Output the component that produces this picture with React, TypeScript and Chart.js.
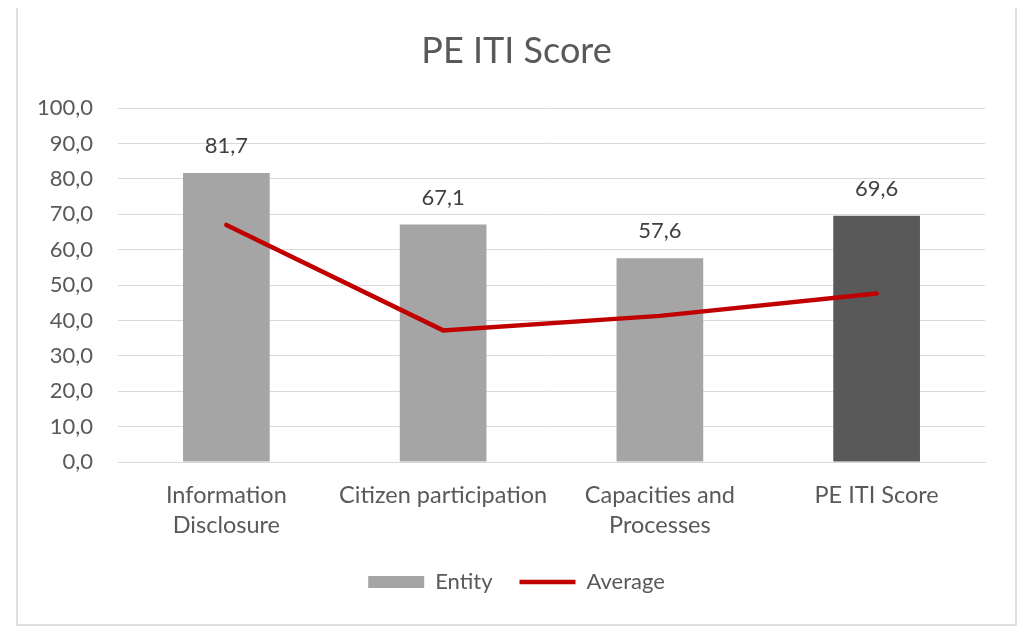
import React, { useEffect, useRef } from "react";
import { Chart, registerables } from "chart.js";

Chart.register(...registerables);

const categories: (string | string[])[] = [
  ["Information", "Disclosure"],
  "Citizen participation",
  ["Capacities and", "Processes"],
  "PE ITI Score",
];
const entityValues = [81.7, 67.1, 57.6, 69.6];
const averageValues = [67.0, 37.2, 41.3, 47.6];
const barColors = ["#A5A5A5", "#A5A5A5", "#A5A5A5", "#595959"];
const yTickMin = 0;
const yTickMax = 100;
const yTickStep = 10;

const FONT = "Lato, 'Open Sans', sans-serif";
const fmt = (v: number) => v.toFixed(1).replace(".", ",");

const barLabelPlugin = {
  id: "barLabels",
  afterDatasetsDraw(chart: any) {
    const meta = chart.getDatasetMeta(0);
    const ctx = chart.ctx;
    ctx.save();
    ctx.font = `22px ${FONT}`;
    ctx.fillStyle = "#404040";
    ctx.textAlign = "center";
    ctx.textBaseline = "middle";
    meta.data.forEach((bar: any, i: number) => {
      ctx.fillText(fmt(entityValues[i]), bar.x, bar.y - 27);
    });
    ctx.restore();
  },
};

export default function App() {
  const ref = useRef<HTMLCanvasElement>(null);
  useEffect(() => {
    if (!ref.current) return;
    const chart = new Chart(ref.current, {
      type: "bar",
      data: {
        labels: categories,
        datasets: [
          {
            type: "bar",
            label: "Entity",
            data: entityValues,
            backgroundColor: barColors,
            borderWidth: 0,
            barPercentage: 0.4,
            categoryPercentage: 1,
            order: 1,
            pointStyle: "rect",
          } as any,
          {
            type: "line",
            label: "Average",
            data: averageValues,
            borderColor: "#C00000",
            backgroundColor: "#C00000",
            borderWidth: 4.5,
            borderCapStyle: "round",
            pointRadius: 0,
            pointHoverRadius: 0,
            tension: 0,
            order: 0,
            pointStyle: "line",
          } as any,
        ],
      },
      options: {
        animation: false,
        responsive: false,
        maintainAspectRatio: false,
        layout: { padding: { top: 0, left: 0, right: 0, bottom: 21 } },
        plugins: {
          title: {
            display: true,
            text: "PE ITI Score",
            color: "#595959",
            font: { family: FONT, size: 36, weight: "normal", lineHeight: 1.2 },
            padding: { top: 26, bottom: 35 },
          },
          legend: {
            display: true,
            position: "bottom",
            labels: {
              usePointStyle: true,
              pointStyleWidth: 56,
              boxHeight: 12,
              padding: 27,
              color: "#595959",
              font: { family: FONT, size: 22 },
              sort: (a: any, b: any) => a.datasetIndex - b.datasetIndex,
            },
          },
          tooltip: { enabled: false },
        },
        scales: {
          x: {
            grid: { display: false, drawTicks: false },
            border: { display: true, color: "#D9D9D9", width: 1 },
            ticks: {
              color: "#595959",
              font: { family: FONT, size: 23.5, lineHeight: 1.25 },
              padding: 19,
              maxRotation: 0,
              autoSkip: false,
            },
            afterFit: (s: any) => {
              s.height = 82;
            },
          },
          y: {
            min: yTickMin,
            max: yTickMax,
            grid: { color: "#D9D9D9", lineWidth: 1, drawTicks: false },
            border: { display: false },
            ticks: {
              stepSize: yTickStep,
              color: "#595959",
              font: { family: FONT, size: 22 },
              padding: 25,
              callback: (v: any) => fmt(Number(v)),
            },
            afterFit: (s: any) => {
              s.width = 100;
            },
          },
          yRight: {
            type: "linear",
            position: "right",
            display: true,
            grid: { display: false, drawTicks: false },
            border: { display: false },
            ticks: { display: false },
            afterFit: (s: any) => {
              s.width = 30;
            },
          },
        },
      },
      plugins: [barLabelPlugin],
    });
    return () => chart.destroy();
  }, []);

  return (
    <div
      style={{
        margin: "-6px 0 0 8px",
        width: 1001,
        height: 624,
        boxSizing: "border-box",
        border: "2px solid #E0E0E0",
        background: "#fff",
      }}
    >
      <canvas ref={ref} width={997} height={620} style={{ display: "block" }} />
    </div>
  );
}
